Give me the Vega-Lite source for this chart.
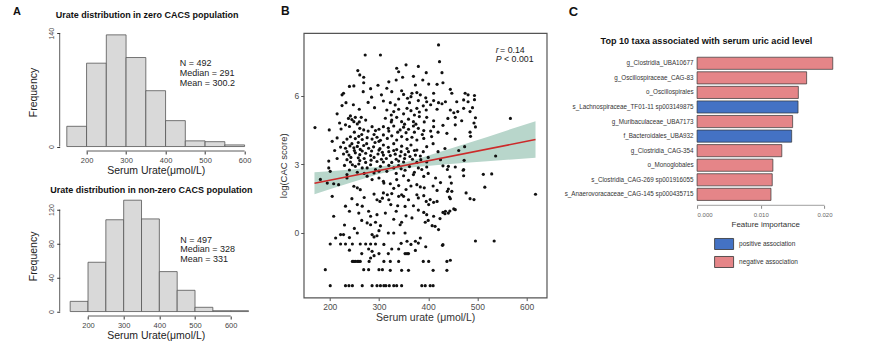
{
"$schema": "https://vega.github.io/schema/vega-lite/v6.json",
"padding": {"left": 12.7, "top": 4, "right": 0, "bottom": 0},
"background": "white",
"bounds": "full",
"spacing": 25,
"resolve": {"scale": {"color": "independent"}, "legend": {"color": "independent"}},
"config": {"font": "Liberation Sans", "view": {"stroke": null}, "axis": {"grid": false}},
"datasets": {
"histTop": [{"lo":150,"hi":200,"n":25},{"lo":200,"hi":250,"n":103},{"lo":250,"hi":300,"n":138},{"lo":300,"hi":350,"n":110},{"lo":350,"hi":400,"n":69},{"lo":400,"hi":450,"n":32},{"lo":450,"hi":500,"n":7},{"lo":500,"hi":550,"n":6},{"lo":550,"hi":600,"n":2}],
"histBot": [{"lo":150,"hi":200,"n":12},{"lo":200,"hi":250,"n":58},{"lo":250,"hi":300,"n":108},{"lo":300,"hi":350,"n":131},{"lo":350,"hi":400,"n":109},{"lo":400,"hi":450,"n":47},{"lo":450,"hi":500,"n":25},{"lo":500,"hi":550,"n":5},{"lo":550,"hi":600,"n":1},{"lo":600,"hi":650,"n":1}],
"band": [{"u":169,"lo":1.69,"hi":2.65},{"u":200,"lo":1.91,"hi":2.70},{"u":250,"lo":2.25,"hi":2.78},{"u":300,"lo":2.58,"hi":2.89},{"u":335,"lo":2.76,"hi":3.00},{"u":370,"lo":2.87,"hi":3.18},{"u":420,"lo":2.97,"hi":3.51},{"u":470,"lo":3.06,"hi":3.85},{"u":520,"lo":3.13,"hi":4.19},{"u":570,"lo":3.21,"hi":4.55},{"u":618,"lo":3.28,"hi":4.88}],
"fit": [{"u":169,"c":2.17},{"u":618,"c":4.08}],
"taxa": [
{"taxon":"g_Clostridia_UBA10677","imp":0.0213,"assoc":"negative association"},
{"taxon":"g_Oscillospiraceae_CAG-83","imp":0.0172,"assoc":"negative association"},
{"taxon":"o_Oscillospirales","imp":0.0159,"assoc":"negative association"},
{"taxon":"s_Lachnospiraceae_TF01-11 sp003149875","imp":0.01585,"assoc":"positive association"},
{"taxon":"g_Muribaculaceae_UBA7173","imp":0.0150,"assoc":"negative association"},
{"taxon":"f_Bacteroidales_UBA932","imp":0.01485,"assoc":"positive association"},
{"taxon":"g_Clostridia_CAG-354","imp":0.0133,"assoc":"negative association"},
{"taxon":"o_Monoglobales","imp":0.0119,"assoc":"negative association"},
{"taxon":"s_Clostridia_CAG-269 sp001916055","imp":0.0118,"assoc":"negative association"},
{"taxon":"s_Anaerovoracaceae_CAG-145 sp000435715","imp":0.0116,"assoc":"negative association"}],
"pts": [
{"u":272,"c":7.77},{"u":303,"c":7.77},{"u":257,"c":7.09},{"u":261,"c":6.90},{"u":269,"c":6.80},{"u":269,"c":6.56},{"u":249,"c":6.42},{"u":268,"c":6.17},{"u":228,"c":6.10},{"u":225,"c":6.03},{"u":285,"c":5.93},{"u":305,"c":6.03},{"u":233,"c":5.69},{"u":225,"c":5.56},{"u":291,"c":5.47},{"u":309,"c":5.76},{"u":242,"c":5.11},{"u":252,"c":5.05},{"u":264,"c":5.05},{"u":273,"c":4.93},{"u":249,"c":4.86},{"u":256,"c":4.76},{"u":170,"c":4.60},{"u":199,"c":4.50},{"u":223,"c":4.54},{"u":232,"c":4.72},{"u":261,"c":4.57},{"u":269,"c":4.50},{"u":286,"c":4.64},{"u":293,"c":4.47},{"u":300,"c":4.53},
{"u":215,"c":4.15},{"u":235,"c":4.10},{"u":242,"c":4.20},{"u":252,"c":4.12},{"u":259,"c":4.22},{"u":266,"c":4.08},{"u":276,"c":4.16},{"u":286,"c":4.10},{"u":296,"c":4.18},{"u":303,"c":4.05},
{"u":222,"c":3.75},{"u":232,"c":3.70},{"u":241,"c":3.80},{"u":249,"c":3.72},{"u":256,"c":3.78},{"u":262,"c":3.65},{"u":269,"c":3.82},{"u":279,"c":3.70},{"u":289,"c":3.76},{"u":302,"c":3.68},
{"u":228,"c":3.45},{"u":239,"c":3.40},{"u":252,"c":3.50},{"u":261,"c":3.42},{"u":273,"c":3.48},{"u":283,"c":3.38},{"u":298,"c":3.45},{"u":307,"c":3.52},
{"u":198,"c":3.14},{"u":235,"c":3.20},{"u":242,"c":3.10},{"u":261,"c":3.16},{"u":273,"c":3.08},{"u":284,"c":3.18},{"u":296,"c":3.12},{"u":305,"c":3.22},
{"u":421,"c":8.21},{"u":336,"c":7.19},{"u":340,"c":7.04},{"u":355,"c":7.34},{"u":380,"c":7.27},{"u":396,"c":7.00},{"u":428,"c":7.00},{"u":423,"c":7.48},{"u":335,"c":6.68},{"u":348,"c":6.80},{"u":370,"c":6.84},
{"u":374,"c":6.46},{"u":389,"c":6.68},{"u":401,"c":6.50},{"u":418,"c":6.49},{"u":430,"c":6.56},
{"u":316,"c":6.32},{"u":326,"c":6.17},{"u":346,"c":6.21},{"u":350,"c":6.05},{"u":367,"c":6.10},{"u":377,"c":6.13},{"u":384,"c":6.03},{"u":411,"c":6.10},{"u":445,"c":6.27},{"u":448,"c":6.10},{"u":475,"c":6.10},
{"u":323,"c":5.69},{"u":333,"c":5.59},{"u":358,"c":5.88},{"u":362,"c":5.69},{"u":380,"c":5.78},{"u":397,"c":5.73},{"u":411,"c":5.78},{"u":421,"c":5.69},{"u":428,"c":5.64},{"u":435,"c":5.73},{"u":458,"c":5.73},{"u":472,"c":5.81},
{"u":316,"c":5.37},{"u":330,"c":5.30},{"u":340,"c":5.40},{"u":357,"c":5.44},{"u":365,"c":5.34},{"u":377,"c":5.44},{"u":382,"c":5.28},{"u":396,"c":5.37},{"u":418,"c":5.40},{"u":445,"c":5.37},{"u":452,"c":5.25},{"u":472,"c":5.44},
{"u":313,"c":5.01},{"u":326,"c":4.93},{"u":336,"c":5.05},{"u":346,"c":4.86},{"u":360,"c":4.97},{"u":370,"c":4.86},{"u":382,"c":5.08},{"u":397,"c":5.05},{"u":411,"c":4.90},{"u":455,"c":5.05},{"u":455,"c":4.72},
{"u":309,"c":4.64},{"u":319,"c":4.57},{"u":330,"c":4.67},{"u":343,"c":4.50},{"u":350,"c":4.62},{"u":360,"c":4.53},{"u":370,"c":4.67},{"u":380,"c":4.57},{"u":391,"c":4.47},{"u":411,"c":4.64},{"u":438,"c":4.35},
{"u":309,"c":4.28},{"u":317,"c":4.13},{"u":326,"c":4.24},{"u":336,"c":4.06},{"u":346,"c":4.21},{"u":357,"c":4.09},{"u":367,"c":4.18},{"u":377,"c":4.06},{"u":391,"c":4.13},{"u":407,"c":4.21},
{"u":309,"c":3.84},{"u":319,"c":3.74},{"u":330,"c":3.90},{"u":336,"c":3.64},{"u":346,"c":3.79},{"u":357,"c":3.69},{"u":365,"c":3.84},{"u":377,"c":3.62},{"u":397,"c":3.77},{"u":434,"c":3.69},{"u":474,"c":3.77},
{"u":309,"c":3.40},{"u":323,"c":3.38},{"u":333,"c":3.44},{"u":343,"c":3.36},{"u":353,"c":3.42},{"u":363,"c":3.34},{"u":374,"c":3.40},{"u":384,"c":3.36},
{"u":309,"c":3.10},{"u":326,"c":3.08},{"u":340,"c":3.14},{"u":350,"c":3.10},{"u":377,"c":3.08},{"u":397,"c":3.10},
{"u":494,"c":6.00},{"u":494,"c":5.82},{"u":490,"c":5.47},{"u":496,"c":5.03},{"u":493,"c":4.80},{"u":496,"c":4.63},{"u":485,"c":4.40},{"u":486,"c":4.22},{"u":473,"c":3.17},{"u":471,"c":2.74},{"u":493,"c":1.46},{"u":485,"c":1.50},{"u":512,"c":2.56},{"u":529,"c":2.58},{"u":515,"c":2.00},{"u":567,"c":5.00},{"u":537,"c":3.36},{"u":618,"c":1.69},{"u":496,"c":-0.35},{"u":534,"c":-0.35},{"u":481,"c":6.03},{"u":481,"c":5.73},{"u":485,"c":5.30},
{"u":430,"c":2.93},{"u":439,"c":2.77},{"u":444,"c":2.45},{"u":447,"c":2.18},{"u":439,"c":1.82},{"u":443,"c":1.57},{"u":445,"c":1.50},{"u":434,"c":0.84},{"u":444,"c":0.96},{"u":424,"c":0.63},{"u":429,"c":-0.54},{"u":445,"c":-1.19},
{"u":198,"c":2.84},{"u":201,"c":2.69},{"u":246,"c":2.98},{"u":252,"c":2.91},{"u":259,"c":3.01},{"u":266,"c":2.84},{"u":276,"c":2.84},{"u":283,"c":2.98},{"u":293,"c":2.77},{"u":303,"c":2.91},
{"u":181,"c":2.34},{"u":195,"c":2.18},{"u":208,"c":2.15},{"u":218,"c":2.11},{"u":235,"c":2.40},{"u":249,"c":2.04},{"u":256,"c":1.97},{"u":262,"c":1.89},{"u":276,"c":2.48},{"u":286,"c":2.33},{"u":300,"c":2.40},{"u":310,"c":2.18},
{"u":205,"c":1.60},{"u":232,"c":1.17},{"u":256,"c":1.24},{"u":266,"c":1.17},{"u":296,"c":1.45},{"u":302,"c":1.38},{"u":307,"c":1.52},
{"u":259,"c":0.87},{"u":279,"c":0.95},{"u":283,"c":0.73},{"u":296,"c":0.80},{"u":208,"c":0.73},
{"u":276,"c":0.44},{"u":283,"c":0.36},{"u":293,"c":0.47},{"u":303,"c":0.32},
{"u":222,"c":-0.07},{"u":228,"c":-0.07},{"u":256,"c":0.00},{"u":286,"c":-0.07},{"u":290,"c":-0.17},{"u":296,"c":-0.12},{"u":212,"c":-0.22},
{"u":201,"c":-0.48},{"u":222,"c":-0.48},{"u":232,"c":-0.48},{"u":246,"c":-0.48},{"u":262,"c":-0.48},{"u":273,"c":-0.48},{"u":283,"c":-0.48},{"u":293,"c":-0.48},
{"u":279,"c":-0.70},{"u":286,"c":-0.80},
{"u":246,"c":-1.24},{"u":249,"c":-1.24},{"u":252,"c":-1.24},{"u":256,"c":-1.24},{"u":259,"c":-1.24},{"u":262,"c":-1.24},{"u":283,"c":-1.09},{"u":290,"c":-0.99},
{"u":191,"c":-1.60},{"u":269,"c":-1.60},{"u":279,"c":-1.60},{"u":300,"c":-1.60},{"u":307,"c":-1.60},
{"u":201,"c":-2.30},{"u":232,"c":-2.30},{"u":239,"c":-2.30},{"u":246,"c":-2.30},{"u":266,"c":-2.30},{"u":286,"c":-2.30},{"u":296,"c":-2.30},{"u":303,"c":-2.30},{"u":310,"c":-2.30},
{"u":316,"c":2.69},{"u":330,"c":2.84},{"u":340,"c":2.94},{"u":353,"c":2.74},{"u":370,"c":2.55},{"u":372,"c":2.65},{"u":380,"c":2.84},{"u":387,"c":2.77},{"u":391,"c":2.47},{"u":397,"c":2.88},{"u":441,"c":2.91},{"u":455,"c":2.88},{"u":472,"c":2.77},{"u":472,"c":2.50},
{"u":309,"c":2.26},{"u":323,"c":2.15},{"u":336,"c":2.33},{"u":340,"c":2.07},{"u":377,"c":2.11},{"u":384,"c":2.01},{"u":392,"c":1.97},{"u":418,"c":1.86},{"u":441,"c":1.92},{"u":448,"c":1.82},{"u":477,"c":1.75},
{"u":309,"c":1.75},{"u":317,"c":1.67},{"u":326,"c":1.72},{"u":340,"c":1.60},{"u":346,"c":1.67},{"u":350,"c":1.60},{"u":377,"c":1.67},{"u":380,"c":1.53},{"u":391,"c":1.63},{"u":324,"c":1.24},{"u":338,"c":1.19},{"u":353,"c":1.16},{"u":370,"c":1.19},{"u":396,"c":1.38},{"u":401,"c":1.24},{"u":404,"c":1.46},{"u":411,"c":1.34},{"u":418,"c":1.38},{"u":430,"c":0.90},{"u":435,"c":0.95},{"u":441,"c":0.87},{"u":452,"c":1.05},{"u":455,"c":1.02},
{"u":313,"c":0.87},{"u":391,"c":0.90},{"u":397,"c":0.80},{"u":411,"c":0.73},{"u":367,"c":0.66},{"u":343,"c":0.36},{"u":346,"c":0.47},{"u":394,"c":0.47},{"u":408,"c":0.32},{"u":414,"c":0.29},{"u":421,"c":0.15},
{"u":319,"c":0.00},{"u":330,"c":0.00},{"u":353,"c":0.00},{"u":374,"c":-0.36},{"u":384,"c":-0.22},{"u":380,"c":-0.44},{"u":357,"c":-0.36},{"u":430,"c":-0.51},
{"u":319,"c":-0.90},{"u":326,"c":-0.70},{"u":340,"c":-0.70},{"u":353,"c":-0.90},{"u":357,"c":-0.90},{"u":360,"c":-0.90},{"u":374,"c":-0.76},{"u":401,"c":-1.24},{"u":438,"c":-1.24},{"u":323,"c":-1.24},{"u":340,"c":-1.24},
{"u":323,"c":-1.63},{"u":346,"c":-1.63},{"u":360,"c":-1.63},{"u":438,"c":-1.63},
{"u":314,"c":-2.30},{"u":321,"c":-2.30},{"u":330,"c":-2.30},{"u":336,"c":-2.30},{"u":346,"c":-2.30},{"u":387,"c":-2.30},{"u":394,"c":-2.30},{"u":404,"c":-2.30},{"u":410,"c":-2.30},
{"u":238,"c":5.00},{"u":245,"c":4.95},{"u":260,"c":4.85},{"u":240,"c":4.65},{"u":250,"c":4.40},{"u":265,"c":4.30},{"u":278,"c":4.45},{"u":290,"c":4.30},{"u":300,"c":4.00},{"u":228,"c":3.95},{"u":245,"c":3.90},{"u":258,"c":3.95},{"u":275,"c":3.90},{"u":292,"c":3.95},{"u":235,"c":3.55},{"u":250,"c":3.60},{"u":266,"c":3.58},{"u":285,"c":3.58},{"u":300,"c":3.62},{"u":243,"c":3.30},{"u":258,"c":3.28},{"u":270,"c":3.25},{"u":290,"c":3.30},{"u":230,"c":2.95},{"u":240,"c":2.75},{"u":256,"c":2.65},{"u":270,"c":2.60},{"u":290,"c":2.62},{"u":300,"c":2.70},{"u":235,"c":2.55},{"u":320,"c":3.55},{"u":330,"c":3.60},{"u":345,"c":3.55},{"u":360,"c":3.55},{"u":372,"c":3.60},{"u":390,"c":3.55},{"u":315,"c":3.25},{"u":335,"c":3.22},{"u":352,"c":3.25},{"u":368,"c":3.22},{"u":385,"c":3.20},{"u":400,"c":3.30},{"u":320,"c":2.95},{"u":335,"c":2.60},{"u":350,"c":2.50},{"u":362,"c":2.90},{"u":345,"c":2.80},{"u":320,"c":4.45},{"u":338,"c":4.40},{"u":355,"c":4.38},{"u":372,"c":4.40},{"u":388,"c":4.30},{"u":325,"c":4.85},{"u":352,"c":4.75},{"u":375,"c":4.75},{"u":392,"c":4.85},{"u":405,"c":4.45},{"u":325,"c":5.15},{"u":350,"c":5.20},{"u":372,"c":5.15},{"u":390,"c":5.55},{"u":405,"c":5.60},{"u":340,"c":5.85},{"u":365,"c":5.95},{"u":395,"c":5.90},{"u":320,"c":6.60},{"u":283,"c":6.30},{"u":298,"c":6.45},{"u":240,"c":6.40},{"u":278,"c":5.70},{"u":260,"c":5.40},{"u":248,"c":5.60},{"u":215,"c":5.20},{"u":220,"c":4.80},{"u":210,"c":3.60},{"u":215,"c":3.25},{"u":205,"c":4.00},{"u":420,"c":3.55},{"u":425,"c":3.20},{"u":410,"c":3.90},{"u":455,"c":4.10},{"u":462,"c":3.60},{"u":420,"c":4.40},{"u":440,"c":5.00},{"u":430,"c":4.70},{"u":460,"c":5.30},{"u":468,"c":4.90},
{"u":400,"c":2.60},{"u":415,"c":2.40},{"u":425,"c":2.20},{"u":410,"c":2.05},{"u":360,"c":2.30},{"u":365,"c":2.05},{"u":355,"c":1.90},{"u":330,"c":1.95},{"u":320,"c":1.45},{"u":360,"c":1.45},{"u":335,"c":0.95},{"u":355,"c":0.75},{"u":380,"c":1.00},{"u":400,"c":0.55},{"u":290,"c":1.70},{"u":270,"c":1.55},{"u":245,"c":1.50},{"u":240,"c":0.95},{"u":265,"c":0.55},{"u":230,"c":0.35},{"u":250,"c":0.20},{"u":300,"c":0.10},{"u":330,"c":0.60},{"u":240,"c":-0.20},{"u":310,"c":-0.50},{"u":345,"c":-0.45},{"u":365,"c":-0.50},{"u":395,"c":-0.60},{"u":300,"c":-0.90},{"u":265,"c":-0.90},{"u":240,"c":-0.75},{"u":310,"c":-1.24},{"u":280,"c":-1.24},{"u":390,"c":-1.24},{"u":410,"c":-1.63}
]
},
"hconcat": [
{"vconcat": [
 {"width": 192, "height": 118,
  "layer": [
   {"data": {"name": "histTop"}, "mark": {"type": "rect", "fill": "#d9d9d9", "stroke": "#555", "strokeWidth": 0.8},
    "encoding": {
     "x": {"field": "lo", "type": "quantitative", "scale": {"domain": [132, 618], "nice": false, "zero": false}, "axis": {"values": [200,300,400,500,600], "domain": false, "tickSize": 3, "tickColor": "#333", "labelFontSize": 7.5, "labelColor": "#444", "labelPadding": 2, "title": "Serum Urate(μmol/L)", "titleFontSize": 10.5, "titleFontWeight": "normal", "titleColor": "#222", "titlePadding": 2}},
     "x2": {"field": "hi"},
     "y": {"field": "n", "type": "quantitative", "scale": {"domain": [-5.52, 140.3], "nice": false, "zero": false}, "axis": {"values": [0,20,40,60,80,100,120,140], "domain": false, "tickSize": 3, "tickColor": "#333", "labelFontSize": 7, "labelColor": "#444", "labelAngle": -90, "labelPadding": 2, "title": "Frequency", "titleFontSize": 10.5, "titleFontWeight": "normal", "titleColor": "#222", "titlePadding": 9}},
     "y2": {"datum": 0}}},
   {"data": {"values": [{}]}, "mark": {"type": "rule", "color": "#333", "strokeWidth": 0.8}, "encoding": {"x": {"datum": 200, "type": "quantitative"}, "x2": {"datum": 600}, "y": {"datum": -5.52, "type": "quantitative"}}},
   {"data": {"values": [{}]}, "mark": {"type": "rule", "color": "#333", "strokeWidth": 0.8}, "encoding": {"x": {"datum": 132, "type": "quantitative"}, "y": {"datum": 0, "type": "quantitative"}, "y2": {"datum": 140}}},
   {"data": {"values": [{}]}, "mark": {"type": "text", "text": ["N = 492", "Median = 291", "Mean = 300.2"], "fontSize": 9, "lineHeight": 9.6, "align": "left", "baseline": "top", "color": "#222"}, "encoding": {"x": {"datum": 436, "type": "quantitative"}, "y": {"datum": 107.7, "type": "quantitative"}}},
   {"data": {"values": [{}]}, "mark": {"type": "text", "text": "Urate distribution in zero CACS population", "fontSize": 9, "fontWeight": "bold", "align": "center", "baseline": "middle", "color": "#111"}, "encoding": {"x": {"datum": 353.2, "type": "quantitative"}, "y": {"datum": 162.7, "type": "quantitative"}}},
   {"data": {"values": [{}]}, "mark": {"type": "text", "text": "A", "fontSize": 11, "fontWeight": "bold", "align": "left", "baseline": "top", "color": "#111"}, "encoding": {"x": {"datum": 13.7, "type": "quantitative"}, "y": {"datum": 173.9, "type": "quantitative"}}}
  ]},
 {"width": 192, "height": 120.25,
  "layer": [
   {"data": {"name": "histBot"}, "mark": {"type": "rect", "fill": "#d9d9d9", "stroke": "#555", "strokeWidth": 0.8},
    "encoding": {
     "x": {"field": "lo", "type": "quantitative", "scale": {"domain": [120.6, 658.9], "nice": false, "zero": false}, "axis": {"values": [200,300,400,500,600], "domain": false, "tickSize": 3, "tickColor": "#333", "labelFontSize": 7.5, "labelColor": "#444", "labelPadding": 2, "title": "Serum Urate(μmol/L)", "titleFontSize": 10.5, "titleFontWeight": "normal", "titleColor": "#222", "titlePadding": 2}},
     "x2": {"field": "hi"},
     "y": {"field": "n", "type": "quantitative", "scale": {"domain": [-5.24, 136.24], "nice": false, "zero": false}, "axis": {"values": [0,20,40,60,80,100,120], "domain": false, "tickSize": 3, "tickColor": "#333", "labelFontSize": 7, "labelColor": "#444", "labelAngle": -90, "labelPadding": 2, "title": "Frequency", "titleFontSize": 10.5, "titleFontWeight": "normal", "titleColor": "#222", "titlePadding": 9}},
     "y2": {"datum": 0}}},
   {"data": {"values": [{}]}, "mark": {"type": "rule", "color": "#333", "strokeWidth": 0.8}, "encoding": {"x": {"datum": 200, "type": "quantitative"}, "x2": {"datum": 600}, "y": {"datum": -5.24, "type": "quantitative"}}},
   {"data": {"values": [{}]}, "mark": {"type": "rule", "color": "#333", "strokeWidth": 0.8}, "encoding": {"x": {"datum": 120.6, "type": "quantitative"}, "y": {"datum": 0, "type": "quantitative"}, "y2": {"datum": 120}}},
   {"data": {"values": [{}]}, "mark": {"type": "text", "text": ["N = 497", "Median = 328", "Mean = 331"], "fontSize": 9, "lineHeight": 9.6, "align": "left", "baseline": "top", "color": "#222"}, "encoding": {"x": {"datum": 458.4, "type": "quantitative"}, "y": {"datum": 89.3, "type": "quantitative"}}},
   {"data": {"values": [{}]}, "mark": {"type": "text", "text": "Urate distribution in non-zero CACS population", "fontSize": 9, "fontWeight": "bold", "align": "center", "baseline": "middle", "color": "#111"}, "encoding": {"x": {"datum": 377.6, "type": "quantitative"}, "y": {"datum": 143.5, "type": "quantitative"}}}
  ]}
 ], "spacing": 44.76, "bounds": "flush"},
{"hconcat": [
 {"width": 243, "height": 264.6,
  "view": {"stroke": "#555", "strokeWidth": 1.2},
  "layer": [
   {"data": {"name": "band"}, "mark": {"type": "area", "color": "#b8d6cb", "opacity": 1},
    "encoding": {
     "x": {"field": "u", "type": "quantitative", "scale": {"domain": [147.1, 640.7], "nice": false, "zero": false}, "axis": {"values": [200,300,400,500,600], "domain": false, "tickSize": 3, "tickColor": "#555", "labelFontSize": 8.5, "labelColor": "#4d4d4d", "labelPadding": 1.5, "title": "Serum urate (μmol/L)", "titleFontSize": 10.5, "titleFontWeight": "normal", "titleColor": "#333", "titlePadding": 2}},
     "y": {"field": "lo", "type": "quantitative", "scale": {"domain": [-2.82, 8.73], "nice": false, "zero": false}, "axis": {"values": [0,3,6], "domain": false, "tickSize": 3, "tickColor": "#555", "labelFontSize": 8.5, "labelColor": "#4d4d4d", "labelPadding": 2, "title": "log(CAC score)", "titleFontSize": 9.5, "titleFontWeight": "normal", "titleColor": "#333", "titlePadding": 5}},
     "y2": {"field": "hi"}}},
   {"data": {"name": "pts"}, "mark": {"type": "circle", "size": 10, "color": "#111", "opacity": 1},
    "encoding": {"x": {"field": "u", "type": "quantitative"}, "y": {"field": "c", "type": "quantitative"}}},
   {"data": {"name": "fit"}, "mark": {"type": "line", "color": "#cc2a2a", "strokeWidth": 1.6},
    "encoding": {"x": {"field": "u", "type": "quantitative"}, "y": {"field": "c", "type": "quantitative"}}},
   {"data": {"values": [{}]}, "mark": {"type": "text", "text": "r", "fontStyle": "italic", "fontSize": 8.8, "align": "left", "baseline": "middle", "color": "#222"}, "encoding": {"x": {"datum": 537, "type": "quantitative"}, "y": {"datum": 7.975, "type": "quantitative"}}},
   {"data": {"values": [{}]}, "mark": {"type": "text", "text": "= 0.14", "fontSize": 8.8, "align": "left", "baseline": "middle", "color": "#222"}, "encoding": {"x": {"datum": 546, "type": "quantitative"}, "y": {"datum": 7.975, "type": "quantitative"}}},
   {"data": {"values": [{}]}, "mark": {"type": "text", "text": "P", "fontStyle": "italic", "fontSize": 8.8, "align": "left", "baseline": "middle", "color": "#222"}, "encoding": {"x": {"datum": 537, "type": "quantitative"}, "y": {"datum": 7.61, "type": "quantitative"}}},
   {"data": {"values": [{}]}, "mark": {"type": "text", "text": "< 0.001", "fontSize": 8.8, "align": "left", "baseline": "middle", "color": "#222"}, "encoding": {"x": {"datum": 554, "type": "quantitative"}, "y": {"datum": 7.61, "type": "quantitative"}}},
   {"data": {"values": [{}]}, "mark": {"type": "text", "text": "B", "fontSize": 12, "fontWeight": "bold", "align": "left", "baseline": "top", "color": "#111"}, "encoding": {"x": {"datum": 101.1, "type": "quantitative"}, "y": {"datum": 9.89, "type": "quantitative"}}}
  ]},
 {"width": 136.3, "height": 172.3,
  "resolve": {"scale": {"y": "independent"}},
  "layer": [
   {"data": {"name": "taxa"}, "mark": {"type": "bar", "stroke": "#333", "strokeWidth": 0.7},
    "encoding": {
     "y": {"field": "taxon", "type": "nominal", "sort": null, "scale": {"paddingInner": 0.168, "paddingOuter": 1.208, "align": 0.832}, "axis": {"title": null, "domain": false, "ticks": false, "labelFontSize": 6.3, "labelColor": "#333", "labelPadding": 4, "labelLimit": 300}},
     "x": {"field": "imp", "type": "quantitative", "scale": {"domain": [0, 0.0214], "nice": false}, "axis": {"values": [0, 0.005, 0.01, 0.015, 0.02], "format": ".3f", "domain": false, "tickSize": 3, "tickColor": "#888", "labelFontSize": 6, "labelColor": "#666", "labelPadding": 3, "title": "Feature importance", "titleFontSize": 7.9, "titleFontWeight": "normal", "titleColor": "#333", "titlePadding": 3}},
     "color": {"field": "assoc", "type": "nominal", "scale": {"domain": ["positive association", "negative association"], "range": ["#4472c4", "#e58588"]},
      "legend": {"orient": "none", "legendX": 17, "legendY": 201, "title": null, "padding": 0, "symbolType": "M-1,-0.58H1V0.58H-1Z", "symbolSize": 361, "symbolStrokeColor": "#333", "symbolStrokeWidth": 0.8, "symbolOpacity": 1, "labelFontSize": 6.5, "labelColor": "#333", "labelOffset": 5, "rowPadding": -2.5}}}},
   {"data": {"values": [{}]}, "mark": {"type": "rule", "color": "#888", "strokeWidth": 0.8}, "encoding": {"x": {"datum": 0, "type": "quantitative"}, "x2": {"datum": 0.02}, "y": {"datum": 0, "type": "quantitative", "scale": {"domain": [0, 1], "nice": false}, "axis": null}}},
   {"data": {"values": [{}]}, "mark": {"type": "text", "text": "Top 10 taxa associated with serum uric acid level", "fontSize": 9.1, "fontWeight": "bold", "align": "center", "baseline": "middle", "color": "#111"}, "encoding": {"x": {"datum": 0.00146, "type": "quantitative"}, "y": {"datum": 0.956, "type": "quantitative", "scale": {"domain": [0, 1], "nice": false}, "axis": null}}},
   {"data": {"values": [{}]}, "mark": {"type": "text", "text": "C", "fontSize": 13, "fontWeight": "bold", "align": "left", "baseline": "top", "color": "#111"}, "encoding": {"x": {"datum": -0.02017, "type": "quantitative"}, "y": {"datum": 1.158, "type": "quantitative", "scale": {"domain": [0, 1], "nice": false}, "axis": null}}}
  ]}
 ], "spacing": 150.4, "bounds": "flush", "resolve": {"scale": {"color": "independent"}, "legend": {"color": "independent"}}}
]
}
